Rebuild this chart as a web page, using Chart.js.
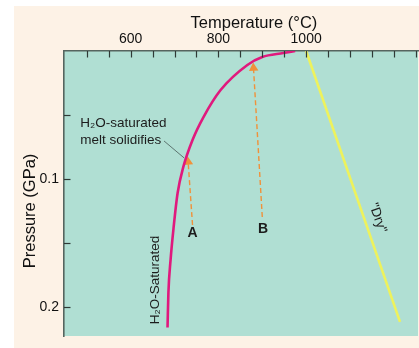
<!DOCTYPE html>
<html><head><meta charset="utf-8">
<script src="https://cdn.jsdelivr.net/npm/chart.js@4/dist/chart.umd.min.js"></script>
<style>html,body{margin:0;padding:0;background:#fff;}#wrap{width:419px;height:348px;}</style>
</head><body><div id="wrap"><canvas id="c" width="419" height="348"></canvas></div>
<script>
// Data (Temperature °C, Pressure GPa)
const solidusT = [684, 686, 691, 698, 707, 720, 741, 766, 805, 866, 900, 948, 975];
const solidusP = [0.216, 0.189, 0.163, 0.1375, 0.111, 0.0906, 0.0695, 0.0516, 0.0305, 0.0109, 0.0047, 0.0016, 0];
const dryT = [1000, 1214];
const dryP = [0, 0.2117];
const arrowAT = [741, 731];
const arrowAP = [0.136, 0.0867];
const arrowBT = [900, 880];
const arrowBP = [0.1297, 0.0133];
const xTickLabels = [600, 800, 1000];
const yTickLabels = [0.1, 0.2];
const xMinorTicks = [500,550,600,650,700,750,800,850,900,950,1000,1050,1100,1150,1200,1250];
const yMinorTicks = [0.05,0.1,0.15,0.2];
const xTitle = 'Temperature (\u00B0C)';
const yTitle = 'Pressure (GPa)';

const pts = (xs, ys) => xs.map((x, i) => ({x, y: ys[i]}));
const FONT = "'Liberation Sans', Arial, Helvetica, sans-serif";

const decor = {
  id: 'decor',
  beforeDraw(chart) {
    const {ctx, chartArea: a} = chart;
    ctx.save();
    ctx.fillStyle = '#fdf2e6';
    ctx.fillRect(14, 6, chart.width - 14, chart.height - 6);
    ctx.fillStyle = '#b0dfd3';
    ctx.fillRect(a.left, a.top, a.right - a.left, a.bottom - a.top);
    ctx.restore();
  },
  afterDatasetsDraw(chart) {
    const {ctx, chartArea: a, scales: {x, y}} = chart;
    ctx.save();
    // inward tick marks
    ctx.strokeStyle = '#2f3a36';
    ctx.lineWidth = 1.2;
    xMinorTicks.forEach(v => {
      const px = Math.round(x.getPixelForValue(v)) + 0.5;
      ctx.beginPath(); ctx.moveTo(px, a.top); ctx.lineTo(px, a.top + 6.5); ctx.stroke();
    });
    yMinorTicks.forEach(v => {
      const py = Math.round(y.getPixelForValue(v)) + 0.5;
      ctx.beginPath(); ctx.moveTo(a.left, py); ctx.lineTo(a.left + 6.5, py); ctx.stroke();
    });
    // axis titles (offset from centre, as in the original)
    ctx.fillStyle = '#111';
    ctx.font = '16.5px ' + FONT;
    ctx.textAlign = 'center'; ctx.textBaseline = 'middle';
    ctx.fillText(xTitle, x.getPixelForValue(881), 23);
    ctx.save();
    ctx.translate(30, y.getPixelForValue(0.125));
    ctx.rotate(-Math.PI / 2);
    ctx.fillText(yTitle, 0, 0);
    ctx.restore();
    // leader line
    ctx.strokeStyle = '#5d7570';
    ctx.lineWidth = 1;
    ctx.beginPath();
    ctx.moveTo(x.getPixelForValue(676), y.getPixelForValue(0.0703));
    ctx.lineTo(x.getPixelForValue(722), y.getPixelForValue(0.0836));
    ctx.stroke();
    // texts
    ctx.fillStyle = '#1c1c1c';
    ctx.font = '13.5px ' + FONT;
    ctx.textAlign = 'left'; ctx.textBaseline = 'middle';
    ctx.fillText('H\u2082O-saturated', x.getPixelForValue(485), y.getPixelForValue(0.0563));
    ctx.fillText('melt solidifies', x.getPixelForValue(485), y.getPixelForValue(0.0695));
    ctx.font = 'bold 14px ' + FONT;
    ctx.textAlign = 'center';
    ctx.fillText('A', x.getPixelForValue(741), y.getPixelForValue(0.142));
    ctx.fillText('B', x.getPixelForValue(902), y.getPixelForValue(0.139));
    ctx.font = '13.5px ' + FONT;
    ctx.save();
    ctx.translate(x.getPixelForValue(657), y.getPixelForValue(0.179));
    ctx.rotate(-Math.PI / 2);
    ctx.fillText('H\u2082O-Saturated', 0, 0);
    ctx.restore();
    ctx.save();
    ctx.translate(x.getPixelForValue(1163), y.getPixelForValue(0.1305));
    ctx.rotate(71 * Math.PI / 180);
    ctx.fillText('"Dry"', 0, 0);
    ctx.restore();
    ctx.restore();
  }
};

new Chart(document.getElementById('c'), {
  type: 'scatter',
  data: {
    datasets: [
      { data: pts(solidusT, solidusP), showLine: true, borderColor: '#e0197d', borderWidth: 2.6,
        pointRadius: 0, cubicInterpolationMode: 'monotone' },
      { data: pts(dryT, dryP), showLine: true, borderColor: '#eef25c', borderWidth: 2.6, pointRadius: 0 },
      { data: pts(arrowAT, arrowAP), showLine: true, borderColor: '#f0913a', borderWidth: 1.4,
        borderDash: [5, 3], pointRadius: [0, 5.5], pointStyle: 'triangle', pointRotation: [0, -4],
        pointBackgroundColor: '#f0913a', pointBorderWidth: 0 },
      { data: pts(arrowBT, arrowBP), showLine: true, borderColor: '#f0913a', borderWidth: 1.4,
        borderDash: [5, 3], pointRadius: [0, 5.5], pointStyle: 'triangle', pointRotation: [0, -3.4],
        pointBackgroundColor: '#f0913a', pointBorderWidth: 0 }
    ]
  },
  options: {
    responsive: false,
    devicePixelRatio: 1,
    animation: false,
    layout: { autoPadding: false, padding: { left: 14, top: 6, right: 1, bottom: 12 } },
    plugins: { legend: { display: false }, tooltip: { enabled: false } },
    scales: {
      x: {
        type: 'linear', position: 'top', min: 448, max: 1255,
        afterFit(s) { s.height = 45; s.paddingLeft = 0; s.paddingRight = 0; },
        grid: { display: false, drawTicks: false },
        border: { display: true, color: '#56655f', width: 1.6 },
        ticks: { stepSize: 50, autoSkip: false, maxRotation: 0, padding: 3,
          color: '#111', font: { family: FONT, size: 14 },
          callback: v => xTickLabels.includes(v) ? String(v) : '' },
        title: { display: false }
      },
      y: {
        type: 'linear', reverse: true, min: 0, max: 0.2227,
        afterFit(s) { s.width = 50; s.paddingTop = 0; s.paddingBottom = 0; },
        grid: { display: false, drawTicks: false },
        border: { display: true, color: '#56655f', width: 1.6 },
        ticks: { stepSize: 0.05, autoSkip: false, padding: 5,
          color: '#111', font: { family: FONT, size: 14 },
          callback: v => yTickLabels.some(t => Math.abs(t - v) < 1e-9) ? v.toFixed(1) : '' },
        title: { display: false }
      }
    }
  },
  plugins: [decor]
});
</script>
</body></html>
